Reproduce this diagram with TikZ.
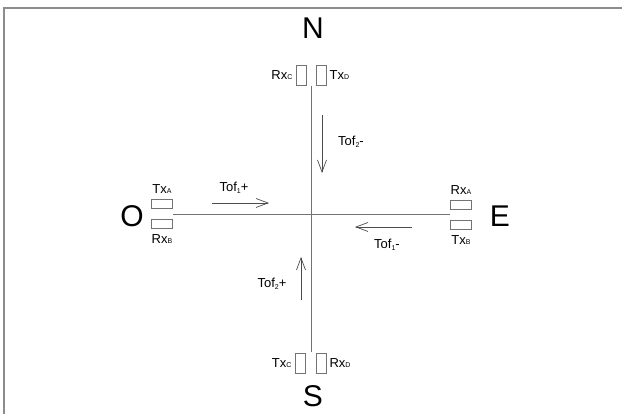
\documentclass[tikz,border=0pt]{standalone}
\usepackage{fontspec}
\setmainfont{Liberation Sans}
\usetikzlibrary{arrows.meta,positioning}
\newcommand{\sbx}[1]{{\fontsize{7}{7}\selectfont #1}}
\newcommand{\txl}[1]{T{x}\sbx{#1}}
\newcommand{\rxl}[1]{R{x}\sbx{#1}}
\newcommand{\tofl}[2]{Tof\raisebox{-0.3ex}{\sbx{#1}}#2}

\begin{document}
\begin{tikzpicture}[x=1pt,y=1pt,every node/.style={inner sep=0pt},
  cardinal/.style={font=\fontsize{30}{30}\selectfont},
  portlbl/.style={font=\fontsize{13}{13}\selectfont},
  vport/.style={draw=black!55,line width=0.8pt,minimum width=10pt,minimum height=20pt},
  hport/.style={draw=black!55,line width=0.8pt,minimum width=21pt,minimum height=9pt},
  axis/.style={draw=black!55,line width=0.8pt},
  tofarrow/.style={draw=black!70,line width=0.7pt,-{Straight Barb[length=12pt,width=9pt]}}]
\useasboundingbox (0,0) rectangle (622,414);
\draw[black!45,line width=1.2pt] (4,0)--(4,406)--(622,406);
% stations
\node[cardinal] (north) at (313,386) {N};
\node[cardinal] (south) at (313,18) {S};
\node[cardinal] (west) at (132,198) {O};
\node[cardinal] (east) at (500,198) {E};
% transducers
\node[vport] (nc) at (301,339) {};
\node[vport] (nd) at (321,339) {};
\node[vport] (sc) at (300,51) {};
\node[vport] (sd) at (321,51) {};
\node[hport] (oa) at (162,210) {};
\node[hport] (ob) at (162,190) {};
\node[hport] (ea) at (461,209) {};
\node[hport] (eb) at (461,189) {};
\node[portlbl,left=3pt of nc] (ncl) {\rxl{C}};
\node[portlbl,right=3pt of nd] (ndl) {\txl{D}};
\node[portlbl,left=3pt of sc] (scl) {\txl{C}};
\node[portlbl,right=3pt of sd] (sdl) {\rxl{D}};
\node[portlbl,above=5pt of oa] (oal) {\txl{A}};
\node[portlbl,below=5pt of ob] (obl) {\rxl{B}};
\node[portlbl,above=5pt of ea] (eal) {\rxl{A}};
\node[portlbl,below=5pt of eb] (ebl) {\txl{B}};
% axes
\coordinate (vtop) at (311.5,328);
\coordinate (vbot) at (311.5,62);
\coordinate (hleft) at (173,200);
\coordinate (hright) at (450,200);
\draw[axis] (vtop)--(vbot);
\draw[axis] (hleft)--(hright);
% time of flight
\coordinate (t1pa) at (212,211);
\coordinate (t1pb) at (269,211);
\coordinate (t1ma) at (412,187);
\coordinate (t1mb) at (355,187);
\coordinate (t2ma) at (322,299);
\coordinate (t2mb) at (322,241);
\coordinate (t2pa) at (301,114);
\coordinate (t2pb) at (301,157);
\draw[tofarrow] (t1pa)--(t1pb);
\draw[tofarrow] (t1ma)--(t1mb);
\draw[tofarrow] (t2ma)--(t2mb);
\draw[tofarrow] (t2pa)--(t2pb);
\node[portlbl] (t1pl) at (234,226) {\tofl{1}{+}};
\node[portlbl] (t1ml) at (387,169) {\tofl{1}{-}};
\node[portlbl] (t2ml) at (351,272) {\tofl{2}{-}};
\node[portlbl] (t2pl) at (272,130) {\tofl{2}{+}};
\end{tikzpicture}
\end{document}
